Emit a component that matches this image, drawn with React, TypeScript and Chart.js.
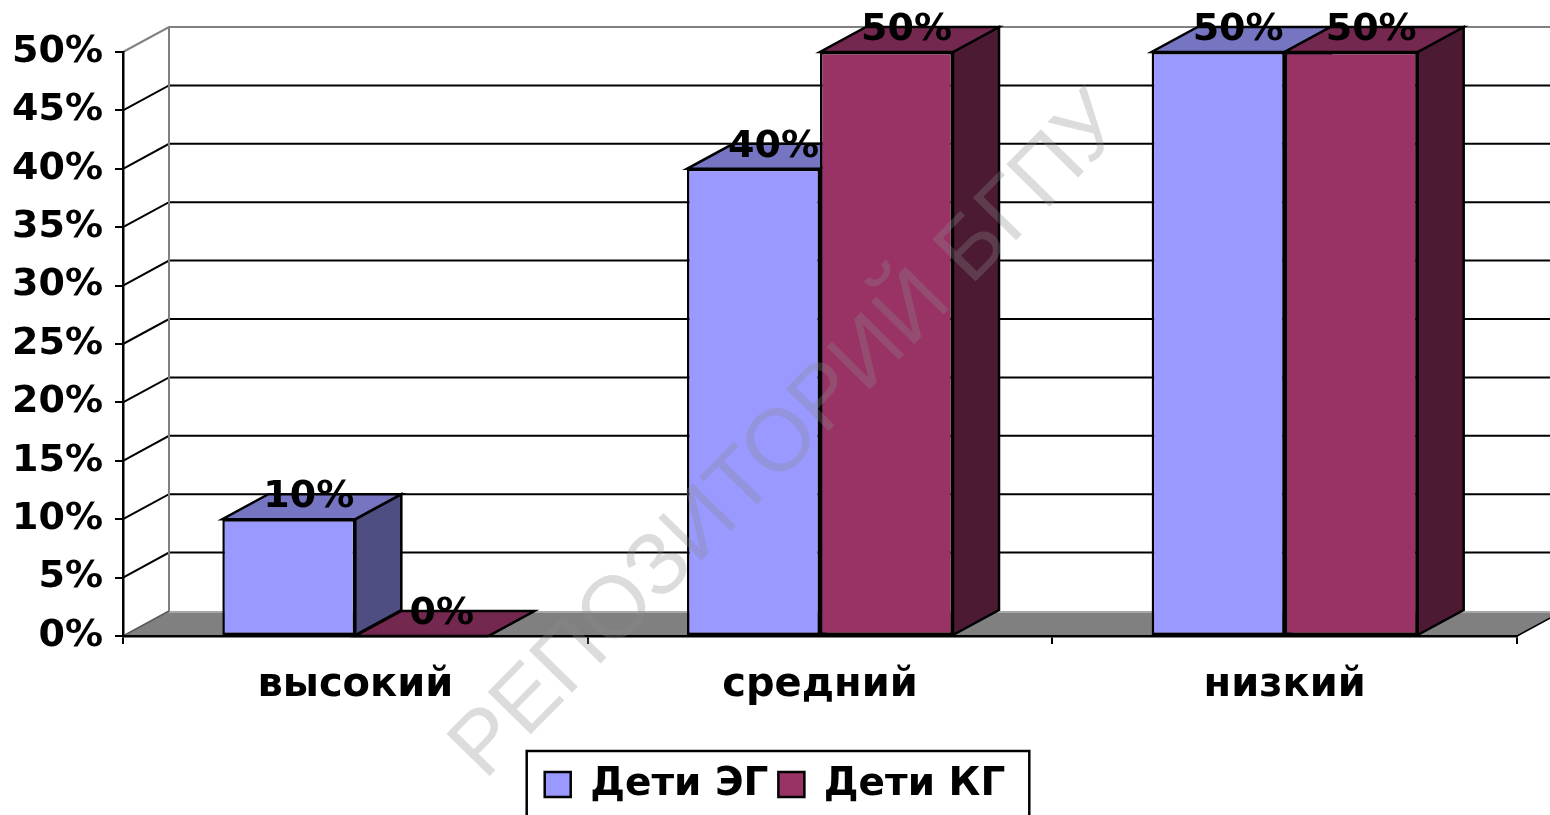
import React, { useEffect, useRef } from "react";
import { Chart, registerables } from "chart.js";

Chart.register(...registerables);

// ---------- data ----------
const categories = ["высокий", "средний", "низкий"];
const seriesNames = ["Дети ЭГ", "Дети КГ"];
const egValues = [10, 40, 50];
const kgValues = [0, 50, 50];
const yMin = 0;
const yMax = 50;
const yStep = 5;
const watermarkText = "РЕПОЗИТОРИЙ БГПУ";

// ---------- styles ----------
const FONT = "'DejaVu Sans', Verdana, sans-serif";
const DX = 46;
const DY = -25;
const frontColors = ["#9999FF", "#993366"];
const topColors = ["#7575C2", "#74274F"];
const sideColors = ["#4E4E82", "#4C1A33"];

const pct = (v: number) => `${Math.round(v)}%`;

function poly(ctx: CanvasRenderingContext2D, pts: number[][], fill: string) {
  ctx.beginPath();
  ctx.moveTo(pts[0][0], pts[0][1]);
  for (let i = 1; i < pts.length; i++) ctx.lineTo(pts[i][0], pts[i][1]);
  ctx.closePath();
  ctx.fillStyle = fill;
  ctx.fill();
  ctx.stroke();
}

function line(ctx: CanvasRenderingContext2D, pts: number[][]) {
  ctx.beginPath();
  ctx.moveTo(pts[0][0], pts[0][1]);
  for (let i = 1; i < pts.length; i++) ctx.lineTo(pts[i][0], pts[i][1]);
  ctx.stroke();
}

const wallsPlugin = {
  id: "walls3d",
  beforeDraw(chart: any) {
    const { ctx, chartArea: a, scales } = chart;
    const ys = scales.y;
    const b = a.bottom;
    ctx.save();
    // floor
    ctx.fillStyle = "#808080";
    ctx.beginPath();
    ctx.moveTo(a.left, b);
    ctx.lineTo(a.right, b);
    ctx.lineTo(a.right + DX, b + DY);
    ctx.lineTo(a.left + DX, b + DY);
    ctx.closePath();
    ctx.fill();
    // gridlines on left and back walls
    ctx.lineWidth = 2;
    ys.ticks.forEach((t: any) => {
      const py = ys.getPixelForValue(t.value);
      if (t.value <= ys.min) return;
      ctx.strokeStyle = t.value >= ys.max ? "#808080" : "#000000";
      line(ctx, [
        [a.left, py],
        [a.left + DX, py + DY],
        [chart.width + 20, py + DY],
      ]);
    });
    // back wall left edge
    ctx.strokeStyle = "#808080";
    line(ctx, [
      [a.left + DX, a.top + DY],
      [a.left + DX, b + DY],
    ]);
    // floor back edge
    ctx.strokeStyle = "#A8A8A8";
    line(ctx, [
      [a.left + DX, b + DY + 1],
      [chart.width + 20, b + DY + 1],
    ]);
    // floor side edges
    ctx.lineWidth = 1.5;
    ctx.strokeStyle = "#5A5A5A";
    line(ctx, [
      [a.left, b],
      [a.left + DX, b + DY],
    ]);
    ctx.strokeStyle = "#000000";
    line(ctx, [
      [a.right, b],
      [a.right + DX, b + DY],
    ]);
    ctx.restore();
  },
  beforeDatasetsDraw(chart: any) {
    const { ctx } = chart;
    const n = chart.data.labels.length;
    ctx.save();
    ctx.lineWidth = 2.5;
    ctx.strokeStyle = "#000000";
    ctx.lineJoin = "miter";
    for (let i = 0; i < n; i++) {
      for (let d = 0; d < chart.data.datasets.length; d++) {
        const el = chart.getDatasetMeta(d).data[i];
        if (!el) continue;
        const { x, y, base, width } = el.getProps(["x", "y", "base", "width"], true);
        const l = x - width / 2;
        const r = x + width / 2;
        poly(ctx, [[r, y], [r + DX, y + DY], [r + DX, base + DY], [r, base]], sideColors[d]);
        poly(ctx, [[l, y], [r, y], [r + DX, y + DY], [l + DX, y + DY]], topColors[d]);
      }
    }
    ctx.restore();
  },
  afterDatasetsDraw(chart: any) {
    const { ctx } = chart;
    ctx.save();
    ctx.font = `bold 38px ${FONT}`;
    ctx.fillStyle = "#000000";
    ctx.textAlign = "center";
    ctx.textBaseline = "middle";
    chart.data.datasets.forEach((ds: any, d: number) => {
      chart.getDatasetMeta(d).data.forEach((el: any, i: number) => {
        const { x, y } = el.getProps(["x", "y"], true);
        ctx.fillText(pct(ds.data[i]), x + DX / 2 - 3, y + DY + 3);
      });
    });
    ctx.restore();
  },
  afterDraw(chart: any) {
    const { ctx } = chart;
    // legend frame
    const lg = chart.legend;
    if (lg && lg.legendHitBoxes && lg.legendHitBoxes.length) {
      const hb = lg.legendHitBoxes;
      const first = hb[0];
      const last = hb[hb.length - 1];
      ctx.save();
      ctx.strokeStyle = "#000000";
      ctx.lineWidth = 2.5;
      ctx.strokeRect(first.left - 18, first.top - 14, last.left + last.width - first.left + 42, 100);
      ctx.restore();
    }
    // watermark
    ctx.save();
    ctx.translate(789, 437);
    ctx.rotate((-45.5 * Math.PI) / 180);
    ctx.font = `88px 'Liberation Sans', Arial, sans-serif`;
    ctx.fillStyle = "rgba(140,140,140,0.3)";
    ctx.textAlign = "center";
    ctx.textBaseline = "middle";
    ctx.fillText(watermarkText, 0, 0);
    ctx.restore();
  },
};

export default function App() {
  const ref = useRef<HTMLCanvasElement | null>(null);
  useEffect(() => {
    if (!ref.current) return;
    const chart = new Chart(ref.current, {
      type: "bar",
      data: {
        labels: categories,
        datasets: [
          {
            label: seriesNames[0],
            data: egValues,
            yAxisID: "y",
            backgroundColor: frontColors[0],
            borderColor: "#000000",
            borderWidth: 2.5,
            borderSkipped: false,
          },
          {
            label: seriesNames[1],
            data: kgValues,
            yAxisID: "y",
            backgroundColor: frontColors[1],
            borderColor: "#000000",
            borderWidth: 2.5,
            borderSkipped: false,
          },
        ],
      },
      options: {
        responsive: false,
        animation: false,
        devicePixelRatio: 1,
        events: [],
        layout: { padding: { top: 52, right: 0, bottom: 1, left: 0 } },
        datasets: { bar: { categoryPercentage: 0.5725, barPercentage: 1 } },
        plugins: {
          tooltip: { enabled: false },
          title: { display: false },
          legend: {
            display: true,
            position: "bottom",
            labels: {
              font: { family: FONT, size: 39, weight: "bold" },
              color: "#000000",
              boxWidth: 26,
              boxHeight: 25,
              padding: 10,
            },
          },
        },
        scales: {
          x: {
            grid: {
              offset: true,
              drawOnChartArea: false,
              drawTicks: true,
              tickLength: 8,
              color: "#000000",
              lineWidth: 2,
            },
            border: { display: true, color: "#000000", width: 2.5 },
            ticks: {
              font: { family: FONT, size: 40, weight: "bold" },
              color: "#000000",
              padding: 18,
              maxRotation: 0,
            },
            afterFit: (s: any) => {
              s.height = 119;
            },
          },
          y: {
            min: yMin,
            max: yMax,
            grid: {
              drawOnChartArea: false,
              drawTicks: true,
              tickLength: 8,
              color: "#000000",
              lineWidth: 2,
            },
            border: { display: true, color: "#000000", width: 2.5 },
            ticks: {
              stepSize: yStep,
              font: { family: FONT, size: 38, weight: "bold" },
              color: "#000000",
              padding: 12,
              callback: (v: any) => pct(Number(v)),
            },
            afterFit: (s: any) => {
              s.width = 123;
            },
          },
          yRightSpace: {
            type: "linear",
            position: "right",
            display: true,
            grid: { display: false, drawTicks: false },
            border: { display: false },
            ticks: { display: false },
            afterFit: (s: any) => {
              s.width = 33;
            },
          },
        },
      },
      plugins: [wallsPlugin],
    } as any);
    return () => chart.destroy();
  }, []);
  return (
    <div style={{ position: "absolute", left: 0, top: 0, width: 1550, height: 815, background: "#ffffff" }}>
      <canvas ref={ref} width={1550} height={815} style={{ display: "block", width: 1550, height: 815 }} />
    </div>
  );
}
